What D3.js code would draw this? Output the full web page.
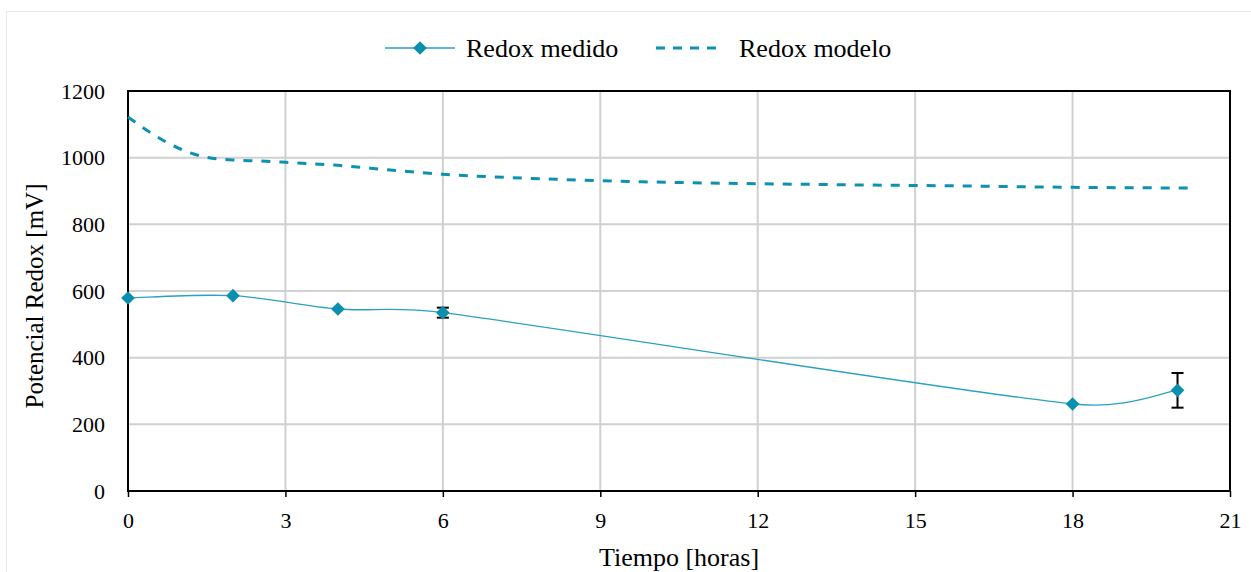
<!DOCTYPE html>
<html>
<head>
<meta charset="utf-8">
<script src="https://cdn.jsdelivr.net/npm/d3@7"></script>
<style>
  body { margin: 0; background: #fff; }
  svg { display: block; font-family: "Liberation Serif", "Times New Roman", serif; }
</style>
</head>
<body>
<div id="d1"></div>
<script>
// mediciones
const horasMedido = [0, 2, 4, 6, 18, 20];
const redoxMedido = [579, 586, 546, 535, 261, 302];
const errorMedido = [0, 0, 0, 15, 0, 52];

// curva del modelo
const horasModelo = [0, 0.25, 0.5, 0.75, 1, 1.25, 1.5, 2, 2.5, 3, 4, 5, 6, 7, 8, 9, 10, 12, 14, 16, 18, 20.25];
const redoxModelo = [1122, 1094, 1068, 1045, 1026, 1011, 1001, 993, 990, 986, 977, 963, 950, 942, 936, 931, 927, 922, 918, 915, 911, 909];

const xTicks = [0, 3, 6, 9, 12, 15, 18, 21];
const yTicks = [0, 200, 400, 600, 800, 1000, 1200];

const width = 1251, height = 572;
const margin = ({ top: 91, right: 21, bottom: 81, left: 128 });
const colorMarker = "#0b8fae", colorLine = "#2aa0c2", colorModel = "#0e90b2";
const serif = "Liberation Serif";

const x = d3.scaleLinear()
    .domain([0, 21])
    .range([margin.left, width - margin.right]);

const y = d3.scaleLinear()
    .domain([0, 1200])
    .range([height - margin.bottom, margin.top]);

const medido = horasMedido.map((h, i) => ({ x: h, y: redoxMedido[i], e: errorMedido[i] }));
const modelo = horasModelo.map((h, i) => ({ x: h, y: redoxModelo[i] }));

// suavizado tipo Excel: bezier con tangentes de Catmull-Rom (1/6),
// limitando cada asa a la mitad del segmento
function smoothPath(pts) {
    const p = d3.path();
    const n = pts.length;
    p.moveTo(pts[0][0], pts[0][1]);
    for (let i = 0; i < n - 1; i++) {
        const p0 = pts[Math.max(i - 1, 0)], p1 = pts[i], p2 = pts[i + 1], p3 = pts[Math.min(i + 2, n - 1)];
        const half = Math.hypot(p2[0] - p1[0], p2[1] - p1[1]) / 2;
        let t1 = [(p2[0] - p0[0]) / 6, (p2[1] - p0[1]) / 6];
        let t2 = [(p3[0] - p1[0]) / 6, (p3[1] - p1[1]) / 6];
        const l1 = Math.hypot(t1[0], t1[1]), l2 = Math.hypot(t2[0], t2[1]);
        if (l1 > half) t1 = t1.map(v => v * half / l1);
        if (l2 > half) t2 = t2.map(v => v * half / l2);
        p.bezierCurveTo(p1[0] + t1[0], p1[1] + t1[1], p2[0] - t2[0], p2[1] - t2[1], p2[0], p2[1]);
    }
    return p.toString();
}

const svg = d3.select("#d1")
    .append("svg")
    .attr("width", width)
    .attr("height", height)
    .attr("viewBox", [0, 0, width, height]);

// borde exterior del grafico
svg.append("rect")
    .attr("x", 6.5).attr("y", 11.5)
    .attr("width", width + 10).attr("height", height + 10)
    .attr("fill", "#fff")
    .attr("stroke", "#ece9e2");

// rejilla
svg.append("g")
    .attr("stroke", "#d0d0d0")
    .attr("stroke-width", 2)
    .call(g => g.selectAll("line.v").data(xTicks.slice(1, -1)).join("line")
        .attr("x1", d => x(d)).attr("x2", d => x(d))
        .attr("y1", y(1200)).attr("y2", y(0)))
    .call(g => g.selectAll("line.h").data(yTicks.slice(1, -1)).join("line")
        .attr("x1", x(0)).attr("x2", x(21))
        .attr("y1", d => y(d)).attr("y2", d => y(d)));

// ejes
const xAxis = g => g
    .attr("transform", `translate(0,${y(0)})`)
    .call(d3.axisBottom(x).tickValues(xTicks).tickFormat(d3.format("d")).tickSize(6).tickPadding(15))
    .attr("font-family", serif)
    .attr("font-size", 22)
    .call(g => g.select(".domain").remove())
    .call(g => g.selectAll(".tick line").attr("stroke", "#000").attr("stroke-width", 1.5))
    .call(g => g.selectAll(".tick text").attr("fill", "#000"));

const yAxis = g => g
    .attr("transform", `translate(${x(0)},0)`)
    .call(d3.axisLeft(y).tickValues(yTicks).tickFormat(d3.format("d")).tickSize(0).tickPadding(23))
    .attr("font-family", serif)
    .attr("font-size", 22)
    .call(g => g.select(".domain").remove())
    .call(g => g.selectAll(".tick text").attr("fill", "#000"));

svg.append("g").call(xAxis);
svg.append("g").call(yAxis);

// marco
svg.append("rect")
    .attr("x", x(0)).attr("y", y(1200))
    .attr("width", x(21) - x(0)).attr("height", y(0) - y(1200))
    .attr("fill", "none")
    .attr("stroke", "#000")
    .attr("stroke-width", 2);

// titulos de ejes
svg.append("text")
    .attr("x", (x(0) + x(21)) / 2)
    .attr("y", 566)
    .attr("text-anchor", "middle")
    .attr("font-family", serif)
    .attr("font-size", 26)
    .text("Tiempo [horas]");

svg.append("text")
    .attr("transform", `translate(43,${(y(0) + y(1200)) / 2 + 5}) rotate(-90)`)
    .attr("text-anchor", "middle")
    .attr("font-family", serif)
    .attr("font-size", 25)
    .text("Potencial Redox [mV]");

// curva del modelo
const lineModelo = d3.line()
    .curve(d3.curveMonotoneX)
    .x(d => x(d.x))
    .y(d => y(d.y));

svg.append("path")
    .datum(modelo)
    .attr("fill", "none")
    .attr("stroke", colorModel)
    .attr("stroke-width", 3)
    .attr("stroke-dasharray", "9,9")
    .attr("d", lineModelo);

// linea suavizada de las mediciones
svg.append("path")
    .attr("fill", "none")
    .attr("stroke", colorLine)
    .attr("stroke-width", 1.3)
    .attr("d", smoothPath(medido.map(d => [x(d.x), y(d.y)])));

// barras de error
const err = svg.append("g")
    .attr("stroke", "#000")
    .attr("stroke-width", 2)
    .selectAll("g")
    .data(medido.filter(d => d.e > 0))
    .join("g");

err.append("line")
    .attr("x1", d => x(d.x)).attr("x2", d => x(d.x))
    .attr("y1", d => y(d.y + d.e)).attr("y2", d => y(d.y - d.e));
err.append("line")
    .attr("x1", d => x(d.x) - 6).attr("x2", d => x(d.x) + 6)
    .attr("y1", d => y(d.y + d.e)).attr("y2", d => y(d.y + d.e));
err.append("line")
    .attr("x1", d => x(d.x) - 6).attr("x2", d => x(d.x) + 6)
    .attr("y1", d => y(d.y - d.e)).attr("y2", d => y(d.y - d.e));

// marcadores rombo
const diamond = d3.symbol().type(d3.symbolDiamond2).size(120);

svg.append("g")
    .attr("fill", colorMarker)
    .selectAll("path")
    .data(medido)
    .join("path")
    .attr("transform", d => `translate(${x(d.x)},${y(d.y)})`)
    .attr("d", diamond);

// leyenda
const legend = svg.append("g").attr("font-family", serif).attr("font-size", 26);

legend.append("line")
    .attr("x1", 385).attr("x2", 455)
    .attr("y1", 48).attr("y2", 48)
    .attr("stroke", colorLine)
    .attr("stroke-width", 1.3);
legend.append("path")
    .attr("transform", "translate(420,48)")
    .attr("fill", colorMarker)
    .attr("d", diamond);
legend.append("text")
    .attr("x", 466).attr("y", 57)
    .text("Redox medido");

legend.append("line")
    .attr("x1", 656).attr("x2", 717)
    .attr("y1", 48).attr("y2", 48)
    .attr("stroke", colorModel)
    .attr("stroke-width", 3)
    .attr("stroke-dasharray", "9,8");
legend.append("text")
    .attr("x", 739).attr("y", 57)
    .text("Redox modelo");
</script>
</body>
</html>
